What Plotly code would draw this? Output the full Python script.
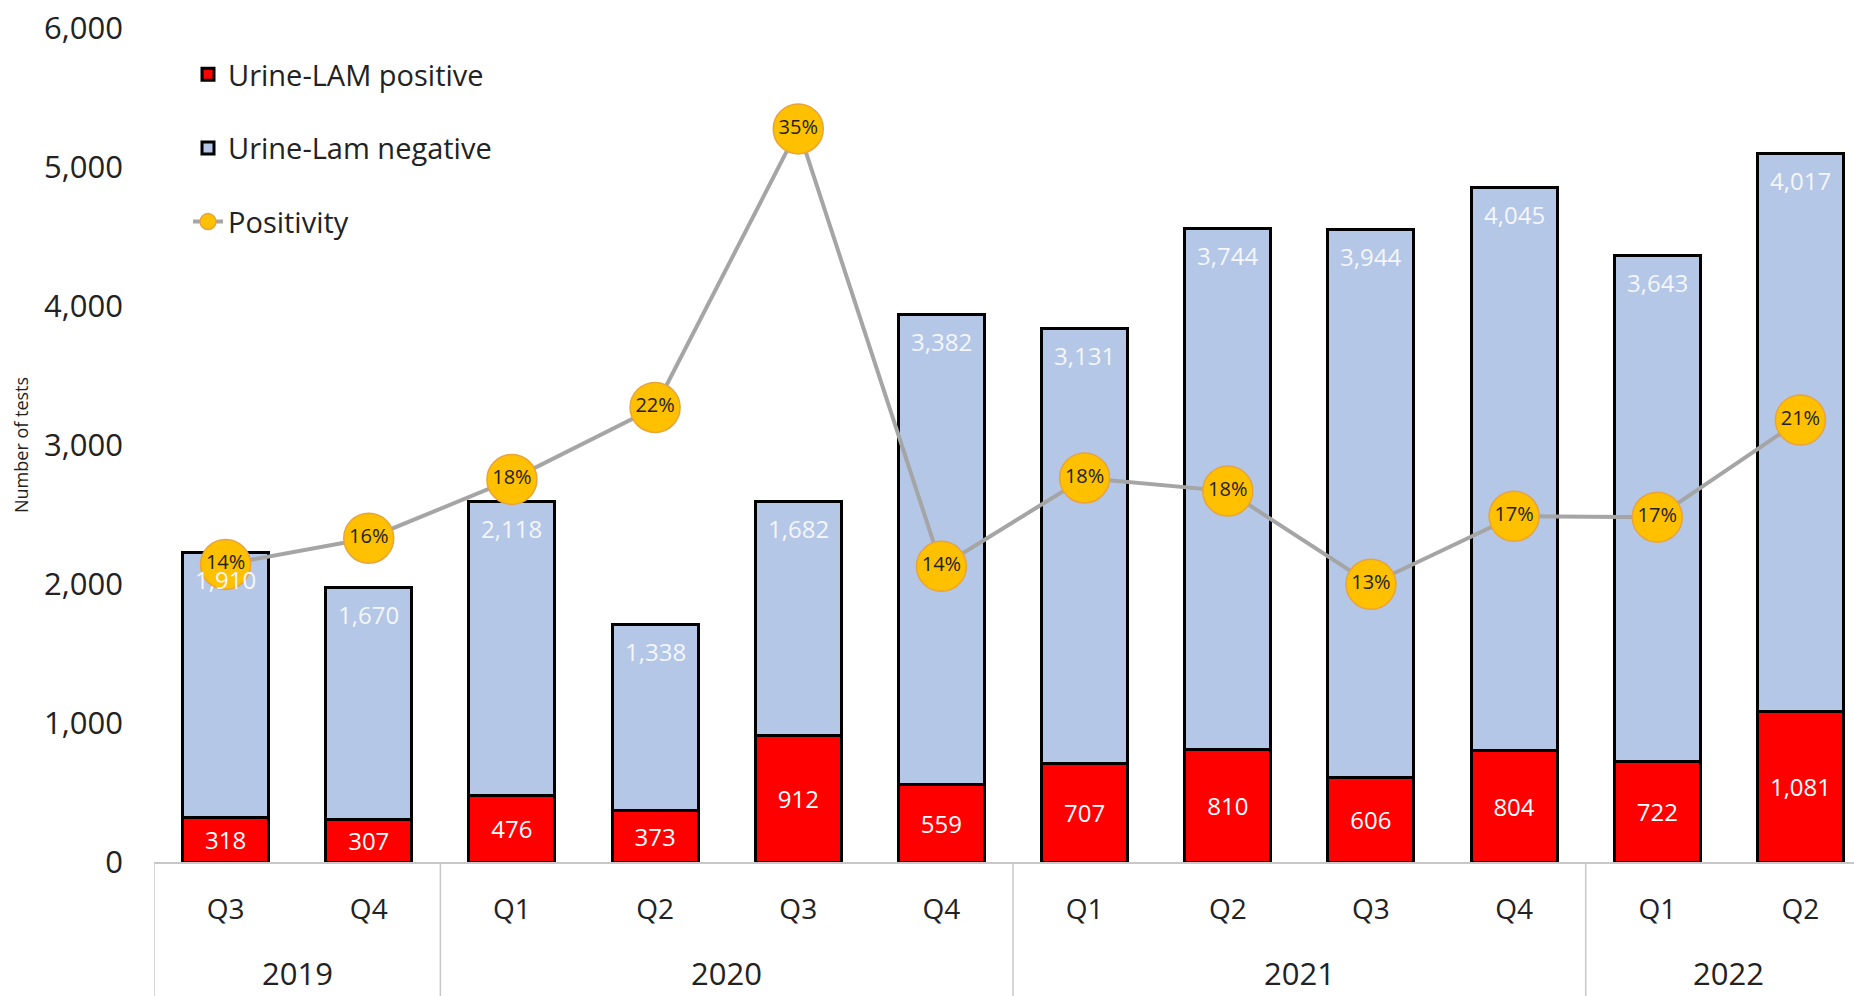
import plotly.graph_objects as go

quarters = ["Q3", "Q4", "Q1", "Q2", "Q3", "Q4", "Q1", "Q2", "Q3", "Q4", "Q1", "Q2"]
years = ["2019", "2020", "2021", "2022"]
year_counts = [2, 4, 4, 2]
positive = [318, 307, 476, 373, 912, 559, 707, 810, 606, 804, 722, 1081]
negative = [1910, 1670, 2118, 1338, 1682, 3382, 3131, 3744, 3944, 4045, 3643, 4017]
positivity = [0.1427, 0.1553, 0.1835, 0.2180, 0.3516, 0.1418, 0.1842, 0.1779, 0.1332, 0.1658, 0.1654, 0.2120]

FONT = "Open Sans"
x = list(range(len(quarters)))

fig = go.Figure()
fig.add_trace(go.Bar(
    x=x, y=positive, name="Urine-LAM positive", legendgroup="a",
    marker=dict(color="#FF0000", line=dict(color="#000000", width=3)),
    width=0.6,
    text=[f"{v:,}" for v in positive], textposition="inside",
    insidetextanchor="middle", textangle=0,
    textfont=dict(family=FONT, size=24, color="#FFFFFF"),
    constraintext="none",
))
fig.add_trace(go.Bar(
    x=x, y=negative, name="Urine-Lam negative", legendgroup="b",
    marker=dict(color="#B4C7E7", line=dict(color="#000000", width=3)),
    width=0.6,
))
fig.add_trace(go.Scatter(
    x=x, y=positivity, name="Positivity", legendgroup="c", yaxis="y2",
    mode="lines+markers+text",
    line=dict(color="#A5A5A5", width=4),
    marker=dict(size=50, color="#FFC000", line=dict(color="#E8A33C", width=1.5)),
    text=[f"{int(v * 100 + 0.5)}%" for v in positivity], textposition="middle center",
    textfont=dict(family=FONT, size=20, color="#222222"),
))

plot_h = 996 - 28 - 134
shapes = []
bounds = [-0.5]
acc = -0.5
for c in year_counts:
    acc += c
    bounds.append(acc)
for b in bounds:
    shapes.append(dict(type="line", xref="x", yref="paper", x0=b, x1=b,
                       y0=0, y1=-134 / plot_h, line=dict(color="#C8C8C8", width=1.5)))

annotations = []
start = 0
for yr, c in zip(years, year_counts):
    annotations.append(dict(x=start + (c - 1) / 2, y=-(973 - 862) / plot_h, xref="x", yref="paper",
                            text=yr, showarrow=False, xanchor="center", yanchor="middle",
                            font=dict(family=FONT, size=31, color="#222222")))
    start += c

# negative-segment value labels near the top of each bar
for xi, p, n in zip(x, positive, negative):
    annotations.append(dict(x=xi, y=p + n, xref="x", yref="y", text=f"{n:,}",
                            showarrow=False, xanchor="center", yanchor="middle", yshift=-27,
                            font=dict(family=FONT, size=24, color="#F4F6FB")))

# y-axis title
annotations.append(dict(x=(21 - 154) / 1700, y=0.5, xref="paper", yref="paper",
                        text="Number of tests", textangle=-90, showarrow=False,
                        xanchor="center", yanchor="middle",
                        font=dict(family=FONT, size=18, color="#222222")))

fig.update_layout(
    width=1854, height=996,
    margin=dict(l=154, r=0, t=28, b=134),
    paper_bgcolor="white", plot_bgcolor="white",
    barmode="stack",
    font=dict(family=FONT, color="#222222"),
    showlegend=True,
    legend=dict(x=0.02, y=0.975, xanchor="left", yanchor="top",
                traceorder="grouped", tracegroupgap=33,
                font=dict(family=FONT, size=29, color="#222222"),
                bgcolor="rgba(0,0,0,0)"),
    xaxis=dict(range=[-0.5, 11.374], tickvals=x, ticktext=quarters,
               tickfont=dict(family=FONT, size=28, color="#222222"),
               showgrid=False, zeroline=False, showline=True,
               linecolor="#C8C8C8", linewidth=1.5, ticks="",
               ticklabelstandoff=22),
    yaxis=dict(range=[0, 6000], tickvals=[0, 1000, 2000, 3000, 4000, 5000, 6000],
               tickformat=",", tickfont=dict(family=FONT, size=31, color="#222222"),
               showgrid=False, zeroline=False, showline=False, ticks="",
               ticklabelstandoff=30),
    yaxis2=dict(range=[0, 0.4], overlaying="y", visible=False),
    shapes=shapes,
    annotations=annotations,
)

fig.write_html(
    "out.html",
    config={"displayModeBar": False},
    post_script="document.documentElement.style.margin='0';document.body.style.margin='0';"
                "document.documentElement.style.overflow='hidden';document.body.style.overflow='hidden';",
)
